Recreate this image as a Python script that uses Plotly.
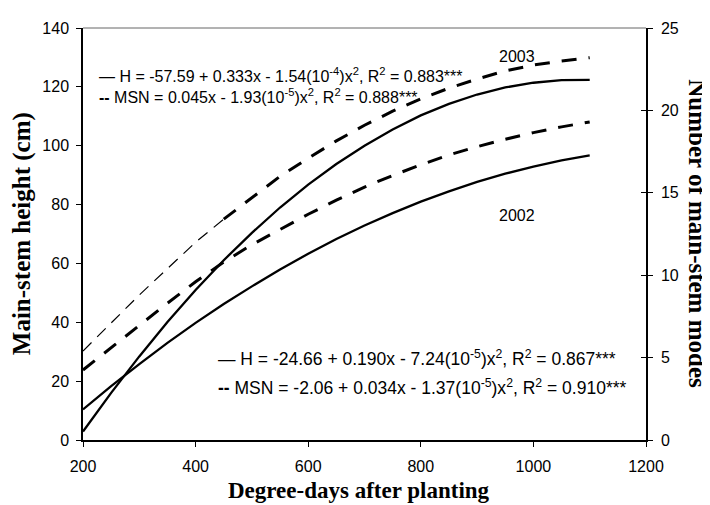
import plotly.graph_objects as go

# ---------------- data ----------------
degree_days = [200, 250, 300, 350, 400, 450, 500, 550, 600, 650,
               700, 750, 800, 850, 900, 950, 1000, 1050, 1100]

height_2003 = [2.9, 16.0, 28.4, 40.1, 51.0, 61.1, 70.4, 79.0, 86.8, 93.8,
               100.0, 105.5, 110.3, 114.2, 117.4, 119.8, 121.4, 122.3, 122.4]
height_2002 = [10.4, 18.3, 25.8, 33.0, 39.8, 46.2, 52.2, 57.9, 63.3, 68.3,
               72.9, 77.1, 81.0, 84.5, 87.7, 90.5, 92.9, 95.0, 96.7]
nodes_2003 = [5.4, 7.1, 8.8, 10.4, 12.0, 13.4, 14.7, 16.0, 17.1, 18.15,
              19.1, 19.95, 20.7, 21.35, 21.9, 22.4, 22.75, 23.0, 23.2]
nodes_2002 = [4.25, 5.6, 7.0, 8.3, 9.6, 10.8, 11.85, 12.8, 13.7, 14.55,
              15.35, 16.05, 16.7, 17.3, 17.8, 18.25, 18.65, 19.0, 19.3]

x_ticks = [200, 400, 600, 800, 1000, 1200]
left_ticks = [0, 20, 40, 60, 80, 100, 120, 140]
right_ticks = [0, 5, 10, 15, 20, 25]

split = degree_days.index(450)

SANS = "Liberation Sans, Arial, sans-serif"
SERIF = "Liberation Serif, Times New Roman, serif"

fig = go.Figure()

fig.add_trace(go.Scatter(x=degree_days, y=height_2003, mode="lines",
                         line=dict(color="black", width=2.3), yaxis="y",
                         showlegend=False, hoverinfo="skip"))
fig.add_trace(go.Scatter(x=degree_days, y=height_2002, mode="lines",
                         line=dict(color="black", width=2.3), yaxis="y",
                         showlegend=False, hoverinfo="skip"))
# 2003 nodes: thin dashes first, thick dashes afterwards
fig.add_trace(go.Scatter(x=degree_days[:split + 1], y=nodes_2003[:split + 1],
                         mode="lines",
                         line=dict(color="black", width=1.2, dash="12px,8px"),
                         yaxis="y2", showlegend=False, hoverinfo="skip"))
fig.add_trace(go.Scatter(x=degree_days[split:], y=nodes_2003[split:],
                         mode="lines",
                         line=dict(color="black", width=3, dash="15px,12px"),
                         yaxis="y2", showlegend=False, hoverinfo="skip"))
fig.add_trace(go.Scatter(x=degree_days, y=nodes_2002, mode="lines",
                         line=dict(color="black", width=3, dash="15px,12px"),
                         yaxis="y2", showlegend=False, hoverinfo="skip"))
# empty trace so the crossing-tick axis is drawn
fig.add_trace(go.Scatter(x=[], y=[], yaxis="y3", showlegend=False,
                         hoverinfo="skip"))

tickfont = dict(family=SANS, size=16, color="black")

# the page body adds an 8px offset, so the figure is 8px smaller
fig.update_layout(
    width=702, height=497,
    margin=dict(l=75, r=64, t=13, b=65),
    paper_bgcolor="white", plot_bgcolor="white",
    xaxis=dict(range=[200, 1200], tickvals=x_ticks, ticks="outside",
               ticklen=5, tickcolor="black", tickwidth=1,
               showline=True, linecolor="black", linewidth=2,
               showgrid=False, zeroline=False, tickfont=tickfont,
               ticklabelstandoff=6),
    yaxis=dict(range=[0, 140], tickvals=left_ticks, ticks="outside",
               ticklen=5, tickcolor="black", tickwidth=1,
               showline=True, linecolor="black", linewidth=1.5,
               showgrid=False, zeroline=False, tickfont=tickfont,
               ticklabelstandoff=4),
    yaxis2=dict(range=[0, 25], tickvals=right_ticks, overlaying="y",
                side="right", ticks="outside", ticklen=5, tickcolor="black",
                tickwidth=1, showline=True, linecolor="black", linewidth=1.5,
                showgrid=False, zeroline=False, tickfont=tickfont,
                ticklabelstandoff=5),
    yaxis3=dict(range=[0, 25], tickvals=right_ticks, overlaying="y",
                side="right", ticks="inside", ticklen=5, tickcolor="black",
                tickwidth=1, showline=False, showgrid=False, zeroline=False,
                showticklabels=False),
)

# grey frame line at top of plot
fig.add_shape(type="line", xref="paper", yref="paper", x0=0, x1=1, y0=1, y1=1,
              line=dict(color="#666666", width=1))

eq_font_top = dict(family=SANS, size=16, color="black")
eq_font_bot = dict(family=SANS, size=17.5, color="black")

annotations = [
    dict(x=224, y=124.0, text="— H = -57.59 + 0.333x - 1.54(10<sup>-4</sup>)x<sup>2</sup>, R<sup>2</sup> = 0.883***",
         font=eq_font_top),
    dict(x=224, y=117.0, text="<b>--</b> MSN = 0.045x - 1.93(10<sup>-5</sup>)x<sup>2</sup>, R<sup>2</sup> = 0.888***",
         font=eq_font_top),
    dict(x=436, y=27.8, text="— H = -24.66 + 0.190x - 7.24(10<sup>-5</sup>)x<sup>2</sup>, R<sup>2</sup> = 0.867***",
         font=eq_font_bot),
    dict(x=436, y=18.1, text="<b>--</b> MSN = -2.06 + 0.034x - 1.37(10<sup>-5</sup>)x<sup>2</sup>, R<sup>2</sup> = 0.910***",
         font=eq_font_bot),
]
for a in annotations:
    fig.add_annotation(xref="x", yref="y", xanchor="left", yanchor="middle",
                       showarrow=False, **a)

fig.add_annotation(x=971, y=130.3, xref="x", yref="y", text="2003",
                   showarrow=False, font=dict(family=SANS, size=16, color="black"))
fig.add_annotation(x=971, y=76.4, xref="x", yref="y", text="2002",
                   showarrow=False, font=dict(family=SANS, size=16, color="black"))

fig.add_annotation(x=-0.108, y=0.5, xref="paper", yref="paper",
                   xanchor="center", yanchor="middle",
                   text="<b>Main-stem height (cm)</b>", textangle=-90,
                   showarrow=False, font=dict(family=SERIF, size=25, color="black"))
fig.add_annotation(x=1.092, y=0.5, xref="paper", yref="paper",
                   xanchor="center", yanchor="middle",
                   text="<b>Number of main-stem modes</b>", textangle=90,
                   showarrow=False, font=dict(family=SERIF, size=25, color="black"))
fig.add_annotation(x=0.49, y=-0.122, xref="paper", yref="paper",
                   xanchor="center", yanchor="middle",
                   text="<b>Degree-days after planting</b>",
                   showarrow=False, font=dict(family=SERIF, size=23, color="black"))

fig.write_html("out.html")
